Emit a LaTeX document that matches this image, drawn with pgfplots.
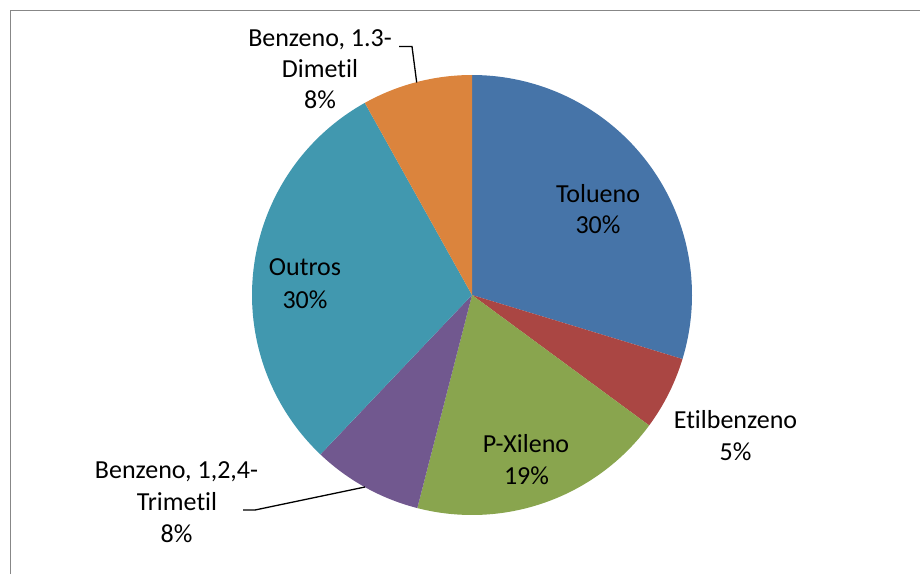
\documentclass[border=0pt]{standalone}
\usepackage{fontspec}
\setmainfont{Carlito}[Ligatures={NoCommon,NoRare,NoContextual}]
\usepackage{pgfplots}
\pgfplotsset{compat=1.18}
\definecolor{cBlue}{RGB}{70,116,168}
\definecolor{cRed}{RGB}{170,70,67}
\definecolor{cGreen}{RGB}{137,165,78}
\definecolor{cPurple}{RGB}{113,88,143}
\definecolor{cTeal}{RGB}{65,152,175}
\definecolor{cOrange}{RGB}{219,132,61}
\newcommand{\lab}{\fontsize{26}{31}\selectfont}
\begin{document}
\begin{tikzpicture}
\useasboundingbox (0pt,0pt) rectangle (920pt,574pt);
\begin{axis}[at={(0pt,0pt)}, anchor=south west, scale only axis,
  width=920pt, height=574pt, xmin=0, xmax=920, ymin=0, ymax=574,
  hide axis, clip=true]
% shares (%): Tolueno 29.7, Etilbenzeno 5.4, P-Xileno 18.9, Trimetil 8.1, Outros 29.8, Dimetil 8.1
\addplot[fill=cBlue, draw=none, domain={90-3.6*29.7}:90, samples=90]
  ({472+220*cos(x)},{279+220*sin(x)}) -- (axis cs:472,279) -- cycle;
\addplot[fill=cRed, draw=none, domain={90-3.6*(29.7+5.4)}:{90-3.6*29.7}, samples=30]
  ({472+220*cos(x)},{279+220*sin(x)}) -- (axis cs:472,279) -- cycle;
\addplot[fill=cGreen, draw=none, domain={90-3.6*(35.1+18.9)}:{90-3.6*35.1}, samples=60]
  ({472+220*cos(x)},{279+220*sin(x)}) -- (axis cs:472,279) -- cycle;
\addplot[fill=cPurple, draw=none, domain={90-3.6*(54.0+8.1)}:{90-3.6*54.0}, samples=30]
  ({472+220*cos(x)},{279+220*sin(x)}) -- (axis cs:472,279) -- cycle;
\addplot[fill=cTeal, draw=none, domain={90-3.6*(62.1+29.8)}:{90-3.6*62.1}, samples=90]
  ({472+220*cos(x)},{279+220*sin(x)}) -- (axis cs:472,279) -- cycle;
\addplot[fill=cOrange, draw=none, domain={90-3.6*100}:{90-3.6*91.9}, samples=30]
  ({472+220*cos(x)},{279+220*sin(x)}) -- (axis cs:472,279) -- cycle;
% frame
\draw[color=black!47, line width=1.6pt] (axis cs:10.5,0) -- (axis cs:10.5,563.5) -- (axis cs:920,563.5);
% leader lines
\draw[black, line width=1.3pt] (axis cs:399,527.5) -- (axis cs:412,527.5) -- (axis cs:416.7,491.5);
\draw[black, line width=1.3pt] (axis cs:243,64) -- (axis cs:255,64) -- (axis cs:365,87);
% labels
\node[anchor=base, font=\lab, inner sep=0pt] at (axis cs:598,372) {Tolueno};
\node[anchor=base, font=\lab, inner sep=0pt] at (axis cs:598,341) {30\%};
\node[anchor=base, font=\lab, inner sep=0pt] at (axis cs:735.5,146) {Etilbenzeno};
\node[anchor=base, font=\lab, inner sep=0pt] at (axis cs:735.5,114) {5\%};
\node[anchor=base, font=\lab, inner sep=0pt] at (axis cs:526,122) {P-Xileno};
\node[anchor=base, font=\lab, inner sep=0pt] at (axis cs:526.5,90) {19\%};
\node[anchor=base, font=\lab, inner sep=0pt] at (axis cs:176.5,96) {Benzeno, 1,2,4-};
\node[anchor=base, font=\lab, inner sep=0pt] at (axis cs:177,64) {Trimetil};
\node[anchor=base, font=\lab, inner sep=0pt] at (axis cs:176.5,32) {8\%};
\node[anchor=base, font=\lab, inner sep=0pt] at (axis cs:305,299) {Outros};
\node[anchor=base, font=\lab, inner sep=0pt] at (axis cs:305,266) {30\%};
\node[anchor=base, font=\lab, inner sep=0pt] at (axis cs:320,527) {Benzeno, 1.3-};
\node[anchor=base, font=\lab, inner sep=0pt] at (axis cs:320,496) {Dimetil};
\node[anchor=base, font=\lab, inner sep=0pt] at (axis cs:320,465) {8\%};
\end{axis}
\end{tikzpicture}
\end{document}
